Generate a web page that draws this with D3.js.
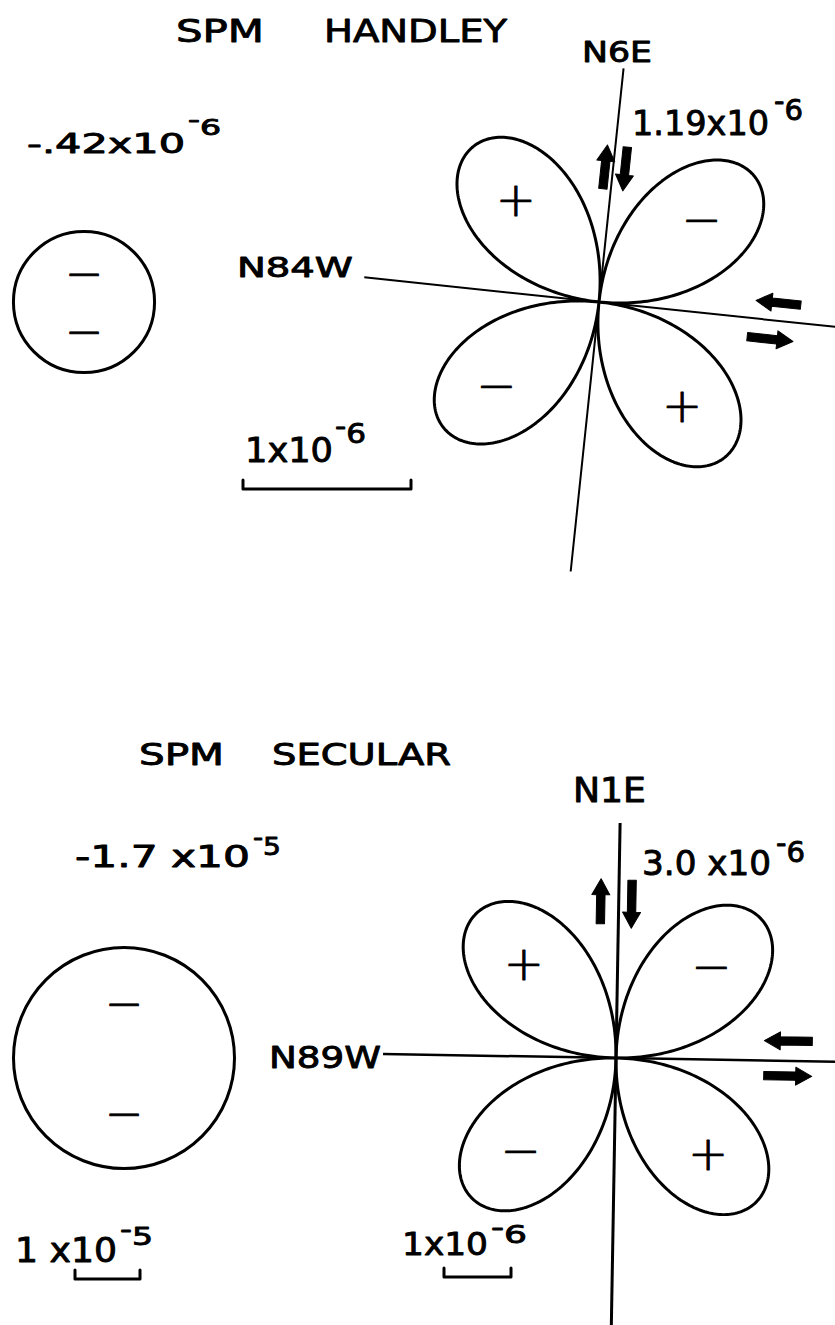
<!DOCTYPE html>
<html>
<head>
<meta charset="utf-8">
<script src="https://cdn.jsdelivr.net/npm/d3@7"></script>
<style>
  html, body { margin: 0; padding: 0; background: #fff; }
  svg { display: block; }
  text { font-family: "DejaVu Sans", sans-serif; fill: #000; stroke: #000; stroke-width: 0.9; stroke-linejoin: round; }
</style>
</head>
<body>
<svg id="chart" width="835" height="1325"></svg>
<script>
// Strain at SPM: areal dilatation (circle) and shear strain (four-lobed rose)
const panelTitles      = [["SPM", "HANDLEY"], ["SPM", "SECULAR"]];
const dilatation       = [-0.42e-6, -1.7e-5];
const dilatationLabels = [["-.42x10", "-6"], ["-1.7 x10", "-5"]];
const shearStrain      = [1.19e-6, 3.0e-6];
const shearLabels      = [["1.19x10", "-6"], ["3.0 x10", "-6"]];
const planeAzimuth     = [6, 1];                 // degrees east of north
const planeLabels      = [["N6E", "N84W"], ["N1E", "N89W"]];
const roseScaleUnit    = [1e-6, 1e-6];
const circleScaleUnit  = [1e-6, 1e-5];
const roseScaleLabels  = [null, ["1x10", "-6"]];
const circleScaleLabels= [["1x10", "-6"], ["1 x10", "-5"]];

// geometry of each panel
const layout = [
  {
    titleY: 42, titleSize: 32, titleWords: [{x: 176, w: 88}, {x: 324, w: 183}],
    rose: {cx: 599, cy: 302, px: 168, north: 235, south: 271, west: 236, east: 240,
           planeW: 2, perpW: 2},
    circle: {cx: 84, cy: 302, px: 168, signOff: 0.41},
    planeText: {x: 582, w: 70, y: 62, size: 28},
    perpText: {x: 237, w: 116, y: 277, size: 27},
    dilText: {x: 27, w: 158, y: 153, size: 27, sx: 188, sw: 33, sy: 135, ssize: 21, rise: 8},
    shearText: {x: 632, w: 137, y: 135, size: 33.5, sx: 774, sw: 29, sy: 120, ssize: 29, rise: 9},
    circleBar: {x: 243, y: 489, tick: 9, text: {x: 245, w: 88, y: 462, size: 34, sx: 335, sw: 31, sy: 443, ssize: 27, rise: 8}},
    roseBar: null,
    arrows: [ // local frame: x along the plane normal (east), y along the plane (south)
      {x: -8, from: -113, to: -157, axis: "y"},
      {x: 12, from: -157, to: -113, axis: "y"},
      {y: -18, from: 201, to: 156, axis: "x"},
      {y: 19, from: 151, to: 197, axis: "x"}
    ]
  },
  {
    titleY: 765, titleSize: 30, titleWords: [{x: 139, w: 85}, {x: 272, w: 179}],
    rose: {cx: 616, cy: 1058, px: 67, north: 235, south: 280, west: 233, east: 240,
           planeW: 3, perpW: 2.5},
    circle: {cx: 124, cy: 1058, px: 65, signOff: 0.5},
    planeText: {x: 573, w: 73, y: 802, size: 33},
    perpText: {x: 269, w: 112, y: 1068, size: 30},
    dilText: {x: 75, w: 175, y: 867, size: 30, sx: 253, sw: 28, sy: 855, ssize: 25, rise: 9},
    shearText: {x: 642, w: 129, y: 875, size: 34, sx: 776, sw: 29, sy: 862, ssize: 29, rise: 9},
    circleBar: {x: 75, y: 1279, tick: 9, text: {x: 15, w: 102, y: 1262, size: 34, sx: 120, sw: 33, sy: 1245, ssize: 25, rise: 7}},
    roseBar: {x: 444, y: 1277, tick: 9, text: {x: 402, w: 86, y: 1255, size: 32, sx: 491, sw: 36, sy: 1243, ssize: 25, rise: 7}},
    arrows: [
      {x: -18, from: -134, to: -179, axis: "y"},
      {x: 13, from: -178, to: -130, axis: "y"},
      {y: -20, from: 196, to: 148, axis: "x"},
      {y: 15, from: 148, to: 196, axis: "x"}
    ]
  }
];

const svg = d3.select("#chart");
const deg = Math.PI / 180;

function fitText(g, str, s) {
  return g.append("text")
    .attr("x", s.x).attr("y", s.y)
    .attr("font-size", s.size)
    .attr("textLength", s.w)
    .attr("lengthAdjust", "spacingAndGlyphs")
    .text(str);
}

function sciText(g, parts, s) {
  fitText(g, parts[0], s);
  const t = g.append("text")
    .attr("x", s.sx).attr("y", s.sy)
    .attr("font-size", s.ssize)
    .attr("textLength", s.sw)
    .attr("lengthAdjust", "spacingAndGlyphs");
  t.append("tspan").attr("dy", -s.rise).text(parts[1].slice(0, 1));
  t.append("tspan").attr("dy", s.rise).text(parts[1].slice(1));
}

function scaleBar(g, bar, scale, unit, parts) {
  const len = scale(unit);
  const p = d3.path();
  p.moveTo(bar.x, bar.y - bar.tick);
  p.lineTo(bar.x, bar.y);
  p.lineTo(bar.x + len, bar.y);
  p.lineTo(bar.x + len, bar.y - bar.tick);
  g.append("path").attr("d", p.toString())
    .attr("fill", "none").attr("stroke", "#000")
    .attr("stroke-width", 3).attr("stroke-linejoin", "round").attr("stroke-linecap", "round");
  sciText(g, parts, bar.text);
}

function arrowPath(a) {
  // thick arrow with a triangular head, along one local axis
  const len = Math.abs(a.to - a.from), dir = Math.sign(a.to - a.from);
  const head = 16, hw = 9, sw = 4.2;
  const pts = [
    [0, -sw], [len - head, -sw], [len - head, -hw], [len, 0],
    [len - head, hw], [len - head, sw], [0, sw]
  ].map(([u, v]) => {
    const along = a.from + dir * u;
    return a.axis === "y" ? [a.x + v, along] : [along, a.y + v];
  });
  return d3.line()(pts) + "Z";
}

layout.forEach((L, i) => {
  const g = svg.append("g");

  // title
  panelTitles[i].forEach((word, k) => {
    fitText(g, word, {x: L.titleWords[k].x, w: L.titleWords[k].w, y: L.titleY, size: L.titleSize})
      .attr("stroke-width", 1.1);
  });

  // dilatation circle
  const cScale = d3.scaleLinear().domain([0, circleScaleUnit[i]]).range([0, L.circle.px]);
  const cr = cScale(Math.abs(dilatation[i]));
  g.append("circle")
    .attr("cx", L.circle.cx).attr("cy", L.circle.cy).attr("r", cr)
    .attr("fill", "none").attr("stroke", "#000").attr("stroke-width", 3);
  const dilSign = dilatation[i] < 0 ? "\u2212" : "+";
  [-1, 1].forEach(s => {
    g.append("text")
      .attr("x", L.circle.cx).attr("y", L.circle.cy + s * L.circle.signOff * cr)
      .attr("text-anchor", "middle").attr("dominant-baseline", "central")
      .attr("font-size", 46).attr("font-weight", 200).attr("stroke-width", 1)
      .text(dilSign);
  });
  sciText(g, dilatationLabels[i], L.dilText);
  scaleBar(g, L.circleBar, cScale, circleScaleUnit[i], circleScaleLabels[i]);

  // shear strain rose
  const R = L.rose;
  const rScale = d3.scaleLinear().domain([0, roseScaleUnit[i]]).range([0, R.px]);
  const az = planeAzimuth[i] * deg;
  const rg = g.append("g").attr("transform", `translate(${R.cx},${R.cy})`);

  // fault plane and its normal
  const radial = d3.lineRadial().angle(d => d[0]).radius(d => d[1]);
  rg.append("path").attr("d", radial([[az, R.north], [az + Math.PI, R.south]]))
    .attr("stroke", "#000").attr("stroke-width", R.planeW).attr("fill", "none");
  rg.append("path").attr("d", radial([[az - Math.PI / 2, R.west], [az + Math.PI / 2, R.east]]))
    .attr("stroke", "#000").attr("stroke-width", R.perpW).attr("fill", "none");

  const gamma = shearStrain[i];
  const samples = d3.range(0, 360, 0.5).map(a => a * deg);
  const rose = d3.lineRadial()
    .angle(a => a)
    .radius(a => rScale(Math.abs(gamma * Math.sin(2 * (a - az)))))
    .curve(d3.curveLinearClosed);
  rg.append("path").attr("d", rose(samples))
    .attr("fill", "none").attr("stroke", "#000").attr("stroke-width", 3)
    .attr("stroke-linejoin", "round");

  // sign of the extension in each lobe
  [-45, 45, 135, 225].forEach(k => {
    const a = az + k * deg;
    const e = -gamma * Math.sin(2 * (a - az));
    const r = 0.66 * rScale(gamma);
    rg.append("text")
      .attr("x", r * Math.sin(a)).attr("y", -r * Math.cos(a))
      .attr("text-anchor", "middle").attr("dominant-baseline", "central")
      .attr("font-size", 48).attr("font-weight", 200).attr("stroke-width", 1)
      .text(e > 0 ? "+" : "\u2212");
  });

  // sense-of-slip arrows, in the frame of the plane
  const ag = rg.append("g").attr("transform", `rotate(${planeAzimuth[i]})`);
  L.arrows.forEach(a => {
    ag.append("path").attr("d", arrowPath(a)).attr("fill", "#000")
      .attr("stroke", "#000").attr("stroke-width", 1).attr("stroke-linejoin", "round");
  });

  fitText(g, planeLabels[i][0], L.planeText);
  fitText(g, planeLabels[i][1], L.perpText);
  sciText(g, shearLabels[i], L.shearText);
  if (L.roseBar) scaleBar(g, L.roseBar, rScale, roseScaleUnit[i], roseScaleLabels[i]);
});
</script>
</body>
</html>
